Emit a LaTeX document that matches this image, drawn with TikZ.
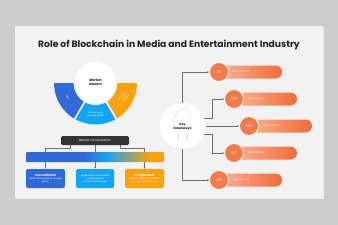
\documentclass[tikz,border=0pt]{standalone}
\usepackage{fontspec}
\setmainfont{Poppins}
\usetikzlibrary{arrows.meta,calc}
\definecolor{bggray}{HTML}{CCCCCC}
\definecolor{card}{HTML}{F2F2F2}
\definecolor{bblue}{HTML}{2F6AD8}
\definecolor{ccyan}{HTML}{12A5F4}
\definecolor{oorange}{HTML}{F9A20D}
\definecolor{pillL}{HTML}{FBB193}
\definecolor{pillR}{HTML}{F26B37}
\definecolor{numor}{HTML}{F47B47}
\definecolor{linegray}{HTML}{6E6E6E}
\definecolor{darkbox}{HTML}{333333}
\definecolor{txt}{HTML}{222222}
\newcommand\bxtitle{\fontsize{3}{3.6}\selectfont\bfseries}
\newcommand\bxsmall{\fontsize{2.2}{2.8}\selectfont}
\pgfdeclarehorizontalshading{barshade}{100bp}{color(0bp)=(bblue); color(46bp)=(bblue); color(54bp)=(ccyan); color(70bp)=(oorange); color(100bp)=(oorange)}
\begin{document}
\begin{tikzpicture}[x=1pt,y=1pt,
  arr/.style={draw=linegray, line width=0.4pt, -{Stealth[length=2pt,width=1.8pt]}},
  numc/.style={circle, fill=numor, draw=white, line width=0.8pt, minimum size=19pt, inner sep=0pt, text=white, font=\fontsize{4.2}{5}\selectfont},
  pill/.style={rounded corners=6.5pt, left color=pillL, right color=pillR, draw=none},
  pilltxt/.style={anchor=west, text=white, font=\fontsize{2.4}{3}\selectfont, inner sep=0pt, opacity=0.9},
  segtxt/.style={text=white, align=center, font=\fontsize{2.2}{3}\selectfont, inner sep=0pt},
  boxc/.style={rounded corners=2pt, minimum height=19pt, inner sep=1pt, text=white, align=center, font=\bxsmall},
]
\useasboundingbox (0,0) rectangle (338,-225);
\fill[bggray] (0,0) rectangle (338,-225);
\fill[black!8] (15.5,-27) rectangle (323.5,-199);
\fill[card] (15,-26) rectangle (323,-198);

% title
\node[font=\fontsize{9.2}{11}\selectfont\bfseries, text=txt] (title) at (169,-45) {Role of Blockchain in Media and Entertainment Industry};

% semicircle
\coordinate (c) at (95.5,-83);
\fill[bblue] (c) ++(180:41.5) arc[start angle=180,end angle=240,radius=41.5] -- ($(c)+(240:22)$) arc[start angle=240,end angle=180,radius=22] -- cycle;
\fill[ccyan] (c) ++(240:41.5) arc[start angle=240,end angle=300,radius=41.5] -- ($(c)+(300:22)$) arc[start angle=300,end angle=240,radius=22] -- cycle;
\fill[oorange] (c) ++(300:41.5) arc[start angle=300,end angle=360,radius=41.5] -- ($(c)+(360:22)$) arc[start angle=360,end angle=300,radius=22] -- cycle;
\draw[white, line width=1.6pt] (c) -- ++(240:43);
\draw[white, line width=1.6pt] (c) -- ++(300:43);
\node[circle, fill=black!6, minimum size=43pt, inner sep=0pt] at (95.5,-83.3) {};
\node[circle, fill=white, minimum size=42pt, inner sep=0pt, align=center, text=txt, font=\fontsize{3.4}{4.2}\selectfont\bfseries] (ml) at (95.5,-82.5) {Market\\leaders};
\node[segtxt, rotate=-70] (s1) at (67.5,-97.5) {IBM};
\node[segtxt] (s2) at (95.5,-114.3) {Amazon web\\services (AWS)};
\node[segtxt, rotate=62] (s3) at (124,-97) {Microsoft\\Azure\\Oracle};

% market concentration
\node[fill=darkbox, rounded corners=1.5pt, minimum width=68pt, minimum height=9pt, inner sep=0pt, text=white, font=\fontsize{3}{3.6}\selectfont] (mc) at (95,-140.5) {Market concentration};
\node[boxc, fill=bblue, minimum width=39pt] (b1) at (45.5,-178.5) {{\bxtitle Consolidated}\\[0.6pt]Market dominated by a single\\player};
\node[boxc, fill=ccyan, minimum width=38pt] (b2) at (95,-178.5) {Moderately concentrated\\identifying and\\concentrated markets};
\node[boxc, fill=oorange, minimum width=39pt] (b3) at (144.5,-178.5) {{\bxtitle Fragmented}\\[0.6pt]Many competitors in market\\without dominant player};
\draw[arr] (mc.south) -- (b2.north);
\draw[arr] ([xshift=-25pt]mc.south) -- ++(0,-3) -| (b1.north);
\draw[arr] ([xshift=25pt]mc.south) -- ++(0,-3) -| (b3.north);
\node[shading=barshade, rounded corners=1pt, minimum width=138pt, minimum height=10pt, inner sep=0pt] (bar) at (95,-157) {};

% key takeaways
\node[circle, fill=black!5, minimum size=47pt, inner sep=0pt] at (182.5,-126.5) {};
\node[circle, fill=white, minimum size=46pt, inner sep=0pt] (kt) at (182.5,-126) {};
\draw[black!12, line width=0.4pt] (176,-118) .. controls (174,-114) and (177,-110) .. (180,-111) .. controls (181,-107) and (187,-107) .. (188,-111) .. controls (191,-111) and (193,-115) .. (190,-118) -- cycle;
\draw[black!12, line width=0.4pt] (178,-133) -- (178,-140) (187,-133) -- (187,-140);
\node[align=center, text=txt, font=\fontsize{3.2}{3.9}\selectfont\bfseries] (ktt) at (182.5,-127) {Key\\takeaways};

% pills
\shade[pill] (219,-65.5) rectangle (282,-78.5);
\shade[pill] (234,-92.5) rectangle (297,-105.5);
\shade[pill] (249,-119.5) rectangle (312,-132.5);
\shade[pill] (234,-146.5) rectangle (297,-159.5);
\shade[pill] (219,-173.5) rectangle (282,-186.5);
\node[numc] (p1) at (219,-72) {01};
\node[numc] (p2) at (234,-99) {02};
\node[numc] (p3) at (249,-126) {03};
\node[numc] (p4) at (234,-153) {04};
\node[numc] (p5) at (219,-180) {05};
\node[pilltxt] (t1) at (233,-72) {Add text here};
\node[pilltxt] (t2) at (248,-99) {Add text here};
\node[pilltxt] (t3) at (263,-126) {Add text here};
\node[pilltxt] (t4) at (248,-153) {Add text here};
\node[pilltxt] (t5) at (233,-180) {Add text here};

\draw[arr] (kt.north) |- (p1.west);
\draw[arr] (kt.20) -- ++(8,0) |- (p2.west);
\draw[arr] (kt.east) -- (p3.west);
\draw[arr] (kt.-20) -- ++(8,0) |- (p4.west);
\draw[arr] (kt.south) |- (p5.west);
\end{tikzpicture}
\end{document}
